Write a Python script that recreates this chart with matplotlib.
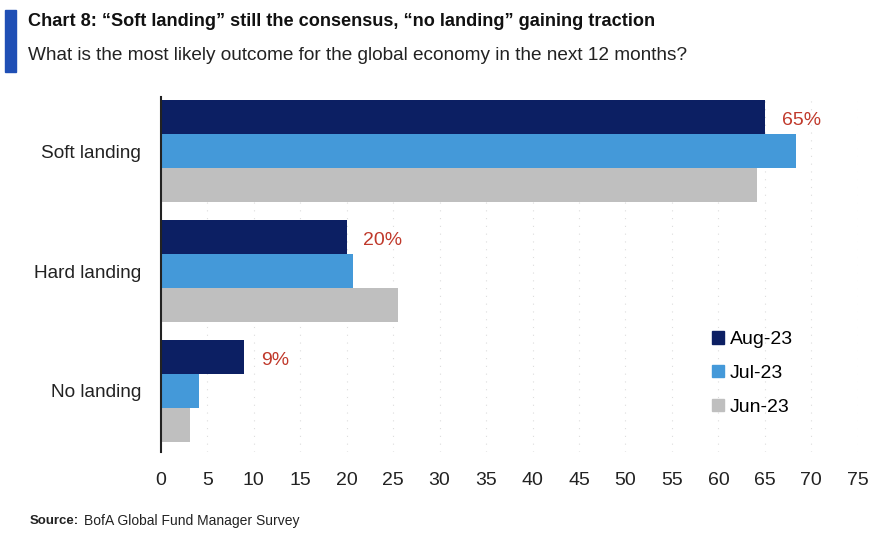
import matplotlib.pyplot as plt
import matplotlib.patches as mpatches
import numpy as np

categories = ['Soft landing', 'Hard landing', 'No landing']
series_names = ['Aug-23', 'Jul-23', 'Jun-23']
aug_23 = [65, 20, 9]
jul_23 = [68.3, 20.7, 4.1]
jun_23 = [64.2, 25.5, 3.2]
aug_labels = ['65%', '20%', '9%']
x_ticks = list(range(0, 80, 5))

colors = ['#0c1f63', '#4499d9', '#bfbfbf']
plt.rcParams['font.family'] = ['Liberation Sans', 'DejaVu Sans']

fig = plt.figure(figsize=(8.88, 5.35), dpi=100)
ax = fig.add_axes([0.181, 0.155, 0.785, 0.664])

bar_h = 0.283
y = np.arange(len(categories))
for k, vals in enumerate([aug_23, jul_23, jun_23]):
    ax.barh(y + (k - 1) * bar_h, vals, height=bar_h, color=colors[k],
            label=series_names[k], zorder=2)

# red value labels next to the latest bars
for i, lab in enumerate(aug_labels):
    ax.text(aug_23[i] + 1.8, y[i] - bar_h + 0.03, lab, color='#c0392b',
            fontsize=14, va='center', ha='left')

ax.set_xlim(0, 75)
ax.set_ylim(2.51, -0.454)
ax.set_xticks(x_ticks)
ax.set_xticklabels([str(t) for t in x_ticks], fontsize=14, color='#222222')
ax.set_yticks(y)
ax.set_yticklabels(categories, fontsize=13.7, color='#222222')
ax.tick_params(axis='x', length=0, pad=14)
ax.tick_params(axis='y', length=0, pad=14)

for s in ['top', 'right', 'bottom']:
    ax.spines[s].set_visible(False)
ax.spines['left'].set_color('#222222')
ax.spines['left'].set_linewidth(1.5)
ax.spines['left'].set_zorder(3)
ax.grid(axis='x', color='#dddddd', linestyle=(0, (1, 6)), linewidth=0.8, zorder=0)

handles = [mpatches.Patch(color=c) for c in colors]
ax.legend(handles, series_names, loc='upper left', bbox_to_anchor=(0.777, 0.367),
          frameon=False, fontsize=14, handlelength=0.6, handleheight=0.6,
          handletextpad=0.3, labelspacing=0.85, borderpad=0)

# title block
fig.patches.append(mpatches.Rectangle((5 / 888, 1 - 72 / 535), 11 / 888, 62 / 535,
                                      transform=fig.transFigure, color='#1f4fb5'))
fig.text(28 / 888, 1 - 22 / 535,
         'Chart 8: \u201cSoft landing\u201d still the consensus, \u201cno landing\u201d gaining traction',
         fontsize=13.1, fontweight='bold', va='center', ha='left', color='#111111')
fig.text(28 / 888, 1 - 55 / 535,
         'What is the most likely outcome for the global economy in the next 12 months?',
         fontsize=13.7, va='center', ha='left', color='#222222')

fig.text(30 / 888, 1 - 521 / 535, 'Source:', fontsize=9.5, fontweight='bold',
         va='center', ha='left', color='#222222')
fig.text(84 / 888, 1 - 521 / 535, 'BofA Global Fund Manager Survey', fontsize=10,
         va='center', ha='left', color='#222222')

fig.savefig('out.png', dpi=100)
